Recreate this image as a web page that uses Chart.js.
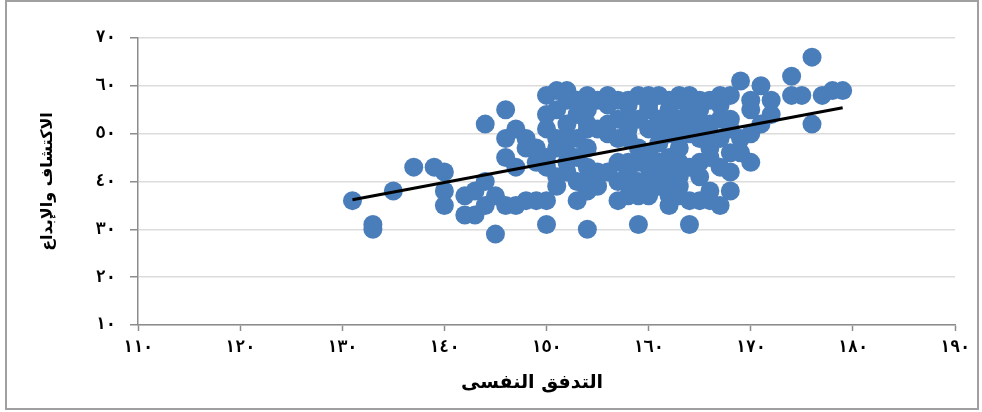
<!DOCTYPE html>
<html>
<head>
<meta charset="utf-8">
<script src="https://cdn.jsdelivr.net/npm/chart.js@4.4.1/dist/chart.umd.min.js"></script>
<style>
    html, body { margin: 0; padding: 0; background: #fff; }
    #wrap { position: relative; width: 982px; height: 412px; }
    #frame { position: absolute; left: 5px; top: 0; width: 970px; height: 406px; border: 2px solid #a0a0a0; pointer-events: none; }
</style>
</head>
<body>
<div id="wrap">
    <canvas id="flowChart" width="982" height="412"></canvas>
    <div id="frame"></div>
</div>
<script>
// التدفق النفسى (x) و الاكتشاف والإبداع (y), same order in both arrays
const flowScores = [
    131, 133, 133, 135, 137, 139, 140, 140, 140, 142,
    142, 143, 143, 144, 144, 144, 145, 145, 146, 147,
    146, 146, 146, 147, 147, 148, 148, 149, 149, 148,
    150, 150, 150, 150, 150, 150, 150, 151, 151, 151,
    151, 152, 152, 152, 152, 152, 153, 153, 153, 154,
    154, 154, 154, 154, 154, 155, 155, 155, 155, 156,
    156, 156, 156, 157, 157, 157, 157, 158, 158, 158,
    158, 158, 159, 159, 159, 159, 160, 160, 160, 160,
    161, 161, 161, 162, 162, 162, 162, 163, 163, 163,
    163, 163, 163, 164, 164, 164, 164, 164, 165, 165,
    165, 166, 166, 166, 166, 167, 167, 167, 167, 168,
    168, 168, 168, 169, 169, 169, 170, 170, 171, 172,
    172, 171, 174, 174, 175, 176, 176, 177, 178, 179,
    151, 153, 157, 159, 160, 158, 154, 152, 153, 159,
    161, 162, 164, 166, 168, 170, 170, 166, 162, 160,
    158, 159, 161, 163, 165, 165, 166, 168, 160, 162,
    164, 158, 154, 152, 157, 156, 154, 160, 162, 163,
    165, 167, 162, 158, 161, 149, 151, 153, 167,
    165, 163, 161
];
const creativityScores = [
    36, 31, 30, 38, 43, 43, 42, 38, 35, 37,
    33, 33, 38, 40, 35, 52, 29, 37, 35, 35,
    55, 49, 45, 51, 43, 47, 36, 36, 47, 49,
    36, 31, 58, 54, 51, 43, 45, 59, 49, 39,
    47, 59, 52, 44, 49, 42, 40, 36, 57, 52,
    43, 40, 38, 30, 51, 57, 42, 51, 39, 52,
    56, 42, 50, 49, 44, 40, 36, 49, 57, 44,
    40, 56, 58, 37, 31, 40, 56, 43, 40, 37,
    58, 53, 42, 40, 52, 42, 37, 57, 53, 47,
    44, 39, 37, 58, 52, 43, 36, 31, 55, 49,
    44, 47, 57, 52, 38, 56, 49, 43, 35, 58,
    51, 46, 42, 61, 49, 46, 55, 44, 60, 57,
    54, 52, 62, 58, 58, 66, 52, 58, 59, 59,
    55, 54, 53, 53, 51, 51, 47, 46, 45, 47,
    48, 50, 50, 50, 53, 57, 50, 45, 45, 46,
    42, 44, 44, 41, 41, 36, 36, 38, 55, 55,
    55, 53, 55, 57, 57, 58, 58, 58, 57, 58,
    57, 58, 35, 37, 39, 44, 41, 49, 53,
    52, 50, 50
];

// خط الاتجاه
const trendX = [131, 179];
const trendY = [36.2, 55.4];

const xTitle = 'التدفق النفسى';
const yTitle = 'الاكتشاف والإبداع';

const arabicDigits = '٠١٢٣٤٥٦٧٨٩';
function toArabic(n) {
    return String(n).replace(/\d/g, d => arabicDigits[d]);
}

const points = flowScores.map((x, i) => ({x: x, y: creativityScores[i]}));
const trend = trendX.map((x, i) => ({x: x, y: trendY[i]}));

// axis titles drawn by hand so they sit where the original has them
const axisTitles = {
    id: 'axisTitles',
    afterDraw(chart) {
        const {ctx, chartArea} = chart;
        ctx.save();
        ctx.fillStyle = '#000';
        ctx.textAlign = 'center';
        ctx.textBaseline = 'middle';
        ctx.font = 'bold 19px "DejaVu Sans"';
        ctx.fillText(xTitle, chartArea.left + 394, chartArea.bottom + 58);
        ctx.font = 'bold 16px "DejaVu Sans"';
        ctx.translate(chartArea.left - 90, (chartArea.top + chartArea.bottom) / 2);
        ctx.rotate(-Math.PI / 2);
        ctx.fillText(yTitle, 0, 0);
        ctx.restore();
    }
};

// mono face gives the wide digit spacing of the original labels
const tickFont = {family: '"DejaVu Sans Mono"', size: 17, weight: 'bold'};

const ctx = document.getElementById('flowChart').getContext('2d');
new Chart(ctx, {
    type: 'scatter',
    data: {
        datasets: [
            {
                type: 'line',
                label: 'trend',
                data: trend,
                borderColor: '#000',
                borderWidth: 3,
                pointRadius: 0,
                fill: false,
                order: 0
            },
            {
                label: 'data',
                data: points,
                backgroundColor: '#4A7EBB',
                borderWidth: 0,
                pointRadius: 9.5,
                order: 1
            }
        ]
    },
    options: {
        responsive: false,
        animation: false,
        events: [],
        layout: {
            padding: {left: 0, top: 38, right: 27, bottom: 0}
        },
        plugins: {
            legend: {display: false},
            tooltip: {enabled: false}
        },
        scales: {
            x: {
                type: 'linear',
                min: 110,
                max: 190,
                afterFit: scale => { scale.height = 87; },
                ticks: {
                    stepSize: 10,
                    padding: 6,
                    color: '#000',
                    font: tickFont,
                    callback: v => toArabic(v)
                },
                grid: {
                    drawOnChartArea: false,
                    drawTicks: true,
                    tickLength: 6,
                    tickColor: '#8c8c8c',
                    tickWidth: 1.5
                },
                border: {color: '#8c8c8c', width: 1.5}
            },
            y: {
                min: 10,
                max: 70,
                afterFit: scale => { scale.width = 138; },
                ticks: {
                    stepSize: 10,
                    padding: 14,
                    color: '#000',
                    font: tickFont,
                    callback: v => toArabic(v)
                },
                grid: {
                    color: '#dcdcdc',
                    lineWidth: 1.5,
                    tickLength: 8,
                    tickColor: '#8c8c8c',
                    tickWidth: 1.5
                },
                border: {color: '#8c8c8c', width: 1.5}
            }
        }
    },
    plugins: [axisTitles]
});
</script>
</body>
</html>
